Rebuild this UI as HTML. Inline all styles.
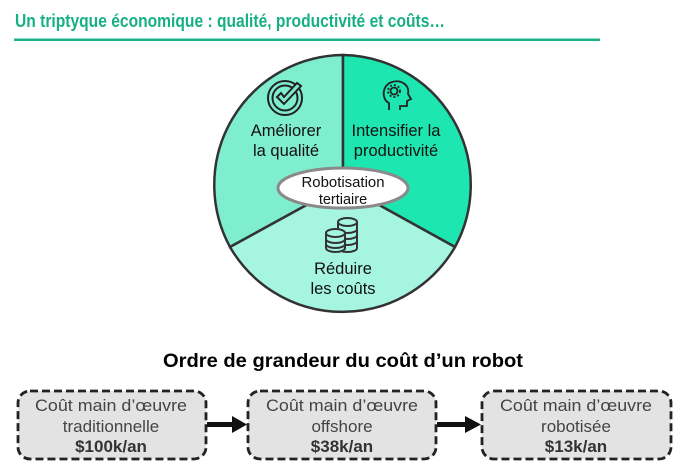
<!DOCTYPE html>
<html><head><meta charset="utf-8"><style>
html,body{margin:0;padding:0;background:#fff;}
svg{display:block;font-family:"Liberation Sans",Arial,sans-serif;}
</style></head><body>
<svg width="679" height="472" viewBox="0 0 679 472" xmlns="http://www.w3.org/2000/svg">
<text x="15" y="27" font-size="18" font-weight="bold" fill="#17b083" textLength="430" lengthAdjust="spacingAndGlyphs">Un triptyque économique : qualité, productivité et coûts…</text>
<rect x="14" y="38.5" width="586" height="2.5" fill="#1db38a"/>
<!-- pie -->
<g stroke="#333" stroke-width="2.5">
<path d="M343,185 L343,55 A130,130 0 0,0 230,247 Z" fill="#7eeecf"/>
<path d="M343,185 L343,55 A130,130 0 0,1 455,247 Z" fill="#1ee6b0"/>
<path d="M343,185 L230,247 A130,130 0 0,0 455,247 Z" fill="#a6f5e1"/>
</g>
<ellipse cx="343" cy="188" rx="65" ry="20" fill="#fff" stroke="#8a8a8a" stroke-width="3"/>
<text x="343" y="187" font-size="14.5" text-anchor="middle" fill="#111" textLength="83" lengthAdjust="spacingAndGlyphs">Robotisation</text>
<text x="343" y="204" font-size="14.5" text-anchor="middle" fill="#111">tertiaire</text>
<g font-size="16.5" text-anchor="middle" fill="#111">
<text x="286" y="136">Améliorer</text>
<text x="286" y="156">la qualité</text>
<text x="396" y="136">Intensifier la</text>
<text x="396" y="156">productivité</text>
<text x="343" y="274">Réduire</text>
<text x="343" y="294">les coûts</text>
</g>
<!-- check icon -->
<g fill="none" stroke="#222" stroke-width="2">
<circle cx="285" cy="98" r="17"/>
<circle cx="285" cy="98" r="12.5"/>
<path d="M277,97 L284,104 L301,86 L297,83 L284,97 L281,93 Z" fill="#7eeecf"/>
</g>
<!-- head icon -->
<g fill="none" stroke="#222" stroke-width="1.8">
<path d="M389,110 L389,103 C381,99 382,85 392,82 C402,79 410,86 408,94 L411,99 L407,101 L407,106 L400,106 L400,110"/>
<circle cx="394" cy="91" r="3.5"/>
<circle cx="394" cy="91" r="6" stroke-dasharray="2 2"/>
</g>
<!-- coins -->
<g fill="#a6f5e1" stroke="#333" stroke-width="2">
<path d="M338,222 L338,248 A9.5,4 0 0,0 357,248 L357,222"/>
<ellipse cx="347.5" cy="222" rx="9.5" ry="4"/>
<path d="M338,229 A9.5,4 0 0,0 357,229 M338,235 A9.5,4 0 0,0 357,235 M338,241 A9.5,4 0 0,0 357,241" fill="none"/>
<path d="M326,233 L326,248 A9.5,4 0 0,0 345,248 L345,233"/>
<ellipse cx="335.5" cy="233" rx="9.5" ry="4"/>
<path d="M326,239 A9.5,4 0 0,0 345,239 M326,244 A9.5,4 0 0,0 345,244" fill="none"/>
</g>
<text x="343" y="367" font-size="19" font-weight="bold" text-anchor="middle" fill="#000" textLength="360" lengthAdjust="spacingAndGlyphs">Ordre de grandeur du coût d’un robot</text>
<g fill="#e3e3e3" stroke="#222" stroke-width="2.8" stroke-dasharray="8 4">
<rect x="18" y="391" width="188" height="68" rx="12"/>
<rect x="248" y="391" width="188" height="68" rx="12"/>
<rect x="482" y="391" width="189" height="68" rx="12"/>
</g>
<g fill="#111">
<rect x="207" y="422" width="28" height="5"/><path d="M232,416 L247,424.5 L232,433 Z"/>
<rect x="437" y="422" width="30" height="5"/><path d="M465,416 L481,424.5 L465,433 Z"/>
</g>
<g font-size="17" text-anchor="middle" fill="#444">
<text x="111" y="411" textLength="152" lengthAdjust="spacingAndGlyphs">Coût main d’œuvre</text>
<text x="111" y="432">traditionnelle</text>
<text x="111" y="452" font-weight="bold" fill="#333">$100k/an</text>
<text x="342" y="411" textLength="152" lengthAdjust="spacingAndGlyphs">Coût main d’œuvre</text>
<text x="342" y="432">offshore</text>
<text x="342" y="452" font-weight="bold" fill="#333">$38k/an</text>
<text x="576" y="411" textLength="152" lengthAdjust="spacingAndGlyphs">Coût main d’œuvre</text>
<text x="576" y="432">robotisée</text>
<text x="576" y="452" font-weight="bold" fill="#333">$13k/an</text>
</g>
</svg>
</body></html>
